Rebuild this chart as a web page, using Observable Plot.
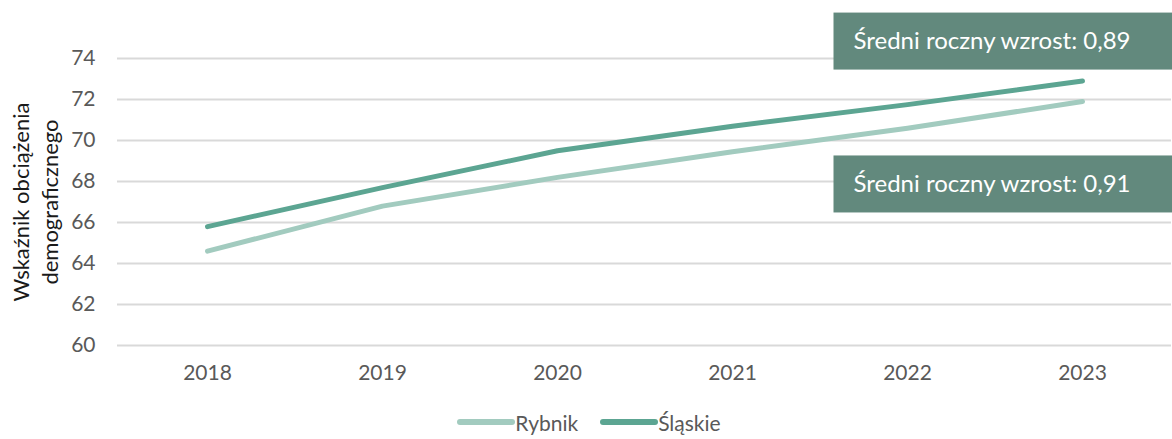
<!DOCTYPE html>
<html><head><meta charset="utf-8">
<script src="https://cdn.jsdelivr.net/npm/d3@7"></script>
<script src="https://cdn.jsdelivr.net/npm/@observablehq/plot@0.6"></script>
<style>
body{margin:0;background:#fff;font-family:Lato,"Open Sans",sans-serif;}
#legend{display:flex;justify-content:center;align-items:center;gap:22px;font-size:21px;color:#595959;height:34px;margin-left:6px}
#legend span{display:flex;align-items:center}
</style>
</head><body>
<div id="chart"></div>
<div id="legend"></div>
<script>
const years = ["2018","2019","2020","2021","2022","2023"];
const rybnik = [64.6, 66.8, 68.2, 69.45, 70.6, 71.9];
const slaskie = [65.8, 67.7, 69.5, 70.7, 71.75, 72.9];
const seriesNames = ["Rybnik", "Śląskie"];
const seriesColors = ["#a2cbbf", "#5ca592"];
const yTicks = [60, 62, 64, 66, 68, 70, 72, 74];
const annoText = ["Średni roczny wzrost: 0,89", "Średni roczny wzrost: 0,91"];
const annoYear = ["2023", "2023"];
const annoValue = [74.85, 67.88];
const yTitle = "Wskaźnik obciążenia\ndemograficznego";

const data = [];
years.forEach((y, i) => {
  data.push({year: y, value: rybnik[i], series: seriesNames[0]});
  data.push({year: y, value: slaskie[i], series: seriesNames[1]});
});
const annos = annoText.map((t, i) => ({text: t, year: annoYear[i], value: annoValue[i]}));

const boxRender = (index, scales, values, dims, context, next) => {
  const g = next(index, scales, values, dims, context);
  const ns = "http://www.w3.org/2000/svg";
  for (const i of index) {
    const r = document.createElementNS(ns, "rect");
    r.setAttribute("x", values.x[i] - 20);
    r.setAttribute("y", values.y[i] - 28.5);
    r.setAttribute("width", 340);
    r.setAttribute("height", 57);
    r.setAttribute("fill", "#62897d");
    g.insertBefore(r, g.firstChild);
  }
  return g;
};

const chart = Plot.plot({
  width: 1172,
  height: 405,
  marginLeft: 117,
  marginRight: 1,
  marginTop: 58,
  marginBottom: 60,
  style: {fontFamily: "Lato, 'Open Sans', sans-serif", fontSize: "21px", color: "#595959", background: "#fff", overflow: "visible"},
  x: {type: "point", domain: years, padding: 0.5, label: null},
  y: {domain: [60, 74], ticks: yTicks, label: null},
  color: {domain: seriesNames, range: seriesColors},
  marks: [
    Plot.gridY(yTicks, {stroke: "#d9d9d9", strokeOpacity: 1, strokeWidth: 2}),
    Plot.axisY(yTicks, {tickSize: 0, tickPadding: 22, fontSize: 21, fill: "#595959", label: null}),
    Plot.axisX({tickSize: 0, tickPadding: 20, fontSize: 21, fill: "#595959", label: null}),
    Plot.line(data, {x: "year", y: "value", z: "series", stroke: "series", strokeWidth: 5, strokeLinecap: "round", strokeLinejoin: "round"}),
    Plot.text(annos, {x: "year", y: "value", text: "text", textAnchor: "start", dx: -229, fill: "#fff", fontSize: 24, render: boxRender}),
    Plot.text([yTitle], {frameAnchor: "left", textAnchor: "middle", rotate: -90, dx: -83, fontSize: 22, fill: "#1a1a1a", lineHeight: 1.32, text: d => d})
  ]
});
document.getElementById("chart").appendChild(chart);

const legend = document.getElementById("legend");
seriesNames.forEach((n, i) => {
  const s = document.createElement("span");
  s.innerHTML = `<svg width="58" height="10"><line x1="3" y1="5" x2="55" y2="5" stroke="${seriesColors[i]}" stroke-width="6" stroke-linecap="round"/></svg><span>${n}</span>`;
  legend.appendChild(s);
});
</script>
</body></html>
